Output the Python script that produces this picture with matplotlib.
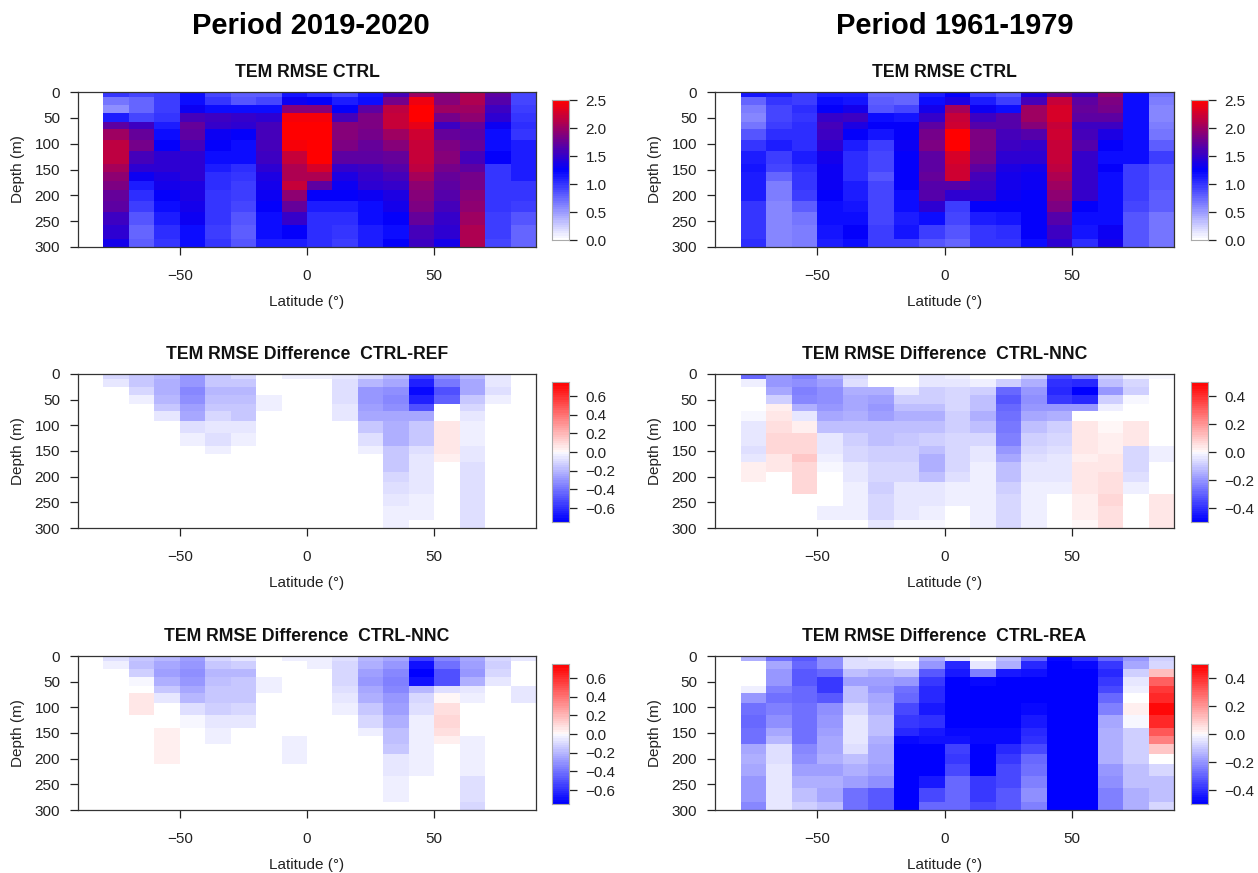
import numpy as np
import matplotlib
matplotlib.use("Agg")
import matplotlib.pyplot as plt
from matplotlib.colors import LinearSegmentedColormap, Normalize

plt.rcParams['font.family'] = ['Liberation Sans', 'DejaVu Sans']

W, H = 1258, 873

lat_edges = [-80,-70,-60,-50,-40,-30,-20,-10,0,10,20,30,40,50,60,70,80,90]
depth_edges = [0,10,25,40,58,72,92,115,140,155,172,190,210,233,258,285,300]

# Each inner list: one latitude band (from -80 to 90), values top to bottom in depth
rmse_2019 = [
 [1.0,0.7,0.55,1.1,1.7,2.0,2.15,2.15,2.05,1.95,1.85,1.75,1.7,1.55,1.45,1.35],
 [0.9,0.75,0.75,0.9,1.55,1.75,1.8,1.6,1.45,1.3,1.1,1.05,0.95,0.85,0.75,0.8],
 [0.95,0.95,0.95,1.0,1.1,1.2,1.25,1.45,1.45,1.4,1.35,1.25,1.2,1.1,1.05,1.0],
 [1.2,1.2,1.3,1.6,1.75,1.7,1.6,1.45,1.45,1.45,1.4,1.4,1.35,1.3,1.2,1.2],
 [0.9,1.0,1.2,1.55,1.5,1.3,1.25,1.2,1.1,1.05,1.05,1.0,1.0,1.0,0.95,1.0],
 [0.8,0.85,1.2,1.5,1.45,1.25,1.2,1.2,1.05,1.0,0.95,0.95,0.9,0.85,0.8,0.85],
 [0.8,0.9,1.2,1.45,1.6,1.6,1.6,1.55,1.45,1.4,1.35,1.3,1.25,1.2,1.2,1.1],
 [1.15,1.3,1.9,2.45,2.5,2.5,2.45,2.2,2.1,2.1,2.2,1.95,1.75,1.5,1.25,1.1],
 [1.05,1.25,1.9,2.45,2.5,2.5,2.5,2.5,2.3,2.1,1.7,1.25,1.1,1.05,1.05,1.05],
 [0.9,1.1,1.25,1.6,1.9,1.9,1.85,1.7,1.5,1.4,1.3,1.25,1.1,1.05,1.0,0.95],
 [1.15,1.2,1.7,1.85,1.85,1.8,1.75,1.7,1.55,1.5,1.45,1.3,1.2,1.2,1.1,1.1],
 [1.6,1.8,2.15,2.2,2.2,2.0,1.9,1.75,1.65,1.6,1.5,1.4,1.35,1.25,1.2,1.25],
 [2.0,2.4,2.5,2.5,2.35,2.25,2.2,2.2,2.15,2.05,1.95,1.9,1.85,1.75,1.6,1.55],
 [1.9,1.9,2.0,1.8,1.55,1.75,1.85,1.9,1.8,1.75,1.7,1.65,1.6,1.5,1.45,1.35],
 [2.1,2.1,2.0,1.95,1.75,1.7,1.75,1.6,1.7,1.8,1.8,1.9,1.95,2.0,2.1,2.1],
 [1.7,1.65,1.55,1.45,1.3,1.2,1.2,1.25,1.0,1.0,1.0,1.0,1.0,0.95,0.95,0.9],
 [0.9,0.9,0.95,1.0,1.05,1.0,1.1,1.1,1.1,1.1,1.0,1.0,0.95,0.85,0.75,0.75],
]

rmse_1961 = [
 [1.15,0.75,0.65,0.6,0.7,0.85,1.0,1.1,1.15,1.1,1.1,1.1,1.0,1.0,1.0,1.05],
 [1.1,1.0,0.9,0.9,0.95,1.05,1.1,0.95,0.9,0.75,0.65,0.65,0.6,0.6,0.6,0.6],
 [0.95,0.95,1.05,1.0,1.05,1.05,1.05,1.1,1.05,1.0,1.0,0.95,0.8,0.7,0.65,0.65],
 [1.1,1.2,1.25,1.5,1.6,1.55,1.45,1.35,1.3,1.3,1.3,1.25,1.2,1.2,1.15,1.1],
 [1.1,1.15,1.35,1.55,1.4,1.25,1.1,1.05,1.05,1.05,1.1,1.1,1.15,1.2,1.25,1.2],
 [0.75,0.8,0.85,1.2,1.25,1.15,0.95,0.9,0.9,0.85,0.9,0.9,0.9,0.9,0.95,0.95],
 [0.75,0.75,0.9,1.15,1.25,1.25,1.3,1.25,1.25,1.25,1.25,1.2,1.2,1.1,1.15,0.95],
 [1.1,1.2,1.35,1.5,1.7,1.8,1.85,1.7,1.7,1.75,1.65,1.65,1.45,1.2,0.95,0.85],
 [1.25,1.4,2.05,2.2,2.25,2.5,2.5,2.3,2.25,2.25,1.65,1.45,0.95,0.9,0.85,0.75],
 [0.95,1.1,1.3,1.55,1.65,1.85,1.85,1.8,1.7,1.6,1.55,1.5,1.25,1.1,1.0,1.0],
 [0.85,0.95,1.2,1.65,1.65,1.6,1.55,1.45,1.4,1.35,1.35,1.3,1.25,1.15,1.05,1.0],
 [1.4,1.6,2.0,2.0,1.9,1.65,1.5,1.45,1.35,1.3,1.3,1.25,1.25,1.25,1.25,1.2],
 [1.75,2.2,2.3,2.3,2.2,2.25,2.2,2.2,2.15,2.1,2.0,1.95,1.85,1.65,1.55,1.45],
 [1.55,1.7,1.75,1.7,1.55,1.6,1.65,1.5,1.5,1.5,1.5,1.5,1.25,1.2,1.15,1.05],
 [1.95,1.85,1.8,1.7,1.55,1.4,1.25,1.2,1.25,1.2,1.2,1.2,1.2,1.2,1.3,1.35],
 [1.2,1.2,1.2,1.2,1.2,1.2,1.2,1.2,0.95,0.95,0.95,0.95,0.9,0.85,0.85,0.85],
 [0.7,0.65,0.6,0.6,0.65,0.7,0.8,0.95,0.85,0.85,0.85,0.8,0.8,0.7,0.7,0.7],
]

diff_2019_ref = [
 [-0.12,-0.08,0,0,0,0,0,0,0,0,0,0,0,0,0,0],
 [-0.15,-0.15,-0.12,-0.05,0,0,0,0,0,0,0,0,0,0,0,0],
 [-0.2,-0.22,-0.22,-0.2,-0.15,-0.07,0,0,0,0,0,0,0,0,0,0],
 [-0.3,-0.3,-0.35,-0.33,-0.28,-0.25,-0.1,-0.05,0,0,0,0,0,0,0,0],
 [-0.15,-0.17,-0.2,-0.18,-0.15,-0.12,-0.08,-0.1,-0.05,0,0,0,0,0,0,0],
 [-0.12,-0.17,-0.2,-0.18,-0.16,-0.15,-0.08,-0.05,0,0,0,0,0,0,0,0],
 [0,0,0,-0.05,-0.05,0,0,0,0,0,0,0,0,0,0,0],
 [-0.04,0,0,0,0,0,0,0,0,0,0,0,0,0,0,0],
 [-0.04,0,0,0,0,0,0,0,0,0,0,0,0,0,0,0],
 [-0.07,-0.1,-0.1,-0.1,-0.08,-0.07,0,0,0,0,0,0,0,0,0,0],
 [-0.12,-0.2,-0.3,-0.3,-0.28,-0.25,-0.15,-0.1,-0.05,0,0,0,0,0,0,0],
 [-0.2,-0.25,-0.33,-0.35,-0.32,-0.25,-0.22,-0.22,-0.15,-0.15,-0.15,-0.12,-0.1,-0.08,-0.04,-0.04],
 [-0.55,-0.65,-0.72,-0.65,-0.5,-0.25,-0.15,-0.15,-0.1,-0.08,-0.08,-0.08,-0.08,-0.05,-0.05,0],
 [-0.32,-0.4,-0.5,-0.45,0,0,0.06,0.07,0.06,0.05,0,0,0,0,0,0],
 [-0.2,-0.25,-0.25,-0.15,-0.12,-0.07,-0.05,-0.05,-0.08,-0.08,-0.1,-0.1,-0.1,-0.1,-0.1,-0.1],
 [-0.08,-0.08,-0.1,-0.05,0,0,0,0,0,0,0,0,0,0,0,0],
 [0,0,0,0,0,0,0,0,0,0,0,0,0,0,0,0],
]

diff_1961_nnc = [
 [-0.3,-0.03,0,0,0,-0.02,-0.04,-0.04,-0.06,-0.04,0.03,0.03,0,0,0,0],
 [-0.2,-0.2,-0.17,-0.1,0.03,0.05,0.06,0.08,0.07,0.04,0.04,0,0,0,0,0],
 [-0.25,-0.22,-0.25,-0.23,-0.15,-0.05,0.03,0.08,0.08,0.1,0.08,0.07,0.07,0,0,0],
 [-0.15,-0.18,-0.22,-0.22,-0.2,-0.17,-0.12,-0.05,-0.04,-0.03,-0.02,0,0,0,-0.03,0],
 [-0.07,-0.06,-0.15,-0.17,-0.17,-0.15,-0.12,-0.1,-0.08,-0.08,-0.05,-0.05,-0.03,-0.03,-0.03,0],
 [0,0,-0.15,-0.18,-0.2,-0.18,-0.13,-0.12,-0.1,-0.1,-0.08,-0.07,-0.1,-0.07,-0.07,-0.04],
 [0,0,-0.05,-0.1,-0.13,-0.15,-0.13,-0.11,-0.1,-0.1,-0.08,-0.07,-0.05,-0.05,-0.05,-0.02],
 [-0.04,-0.04,-0.1,-0.1,-0.13,-0.15,-0.12,-0.1,-0.13,-0.15,-0.15,-0.12,-0.05,-0.05,-0.03,-0.02],
 [-0.03,-0.04,-0.07,-0.08,-0.08,-0.1,-0.1,-0.08,-0.08,-0.08,-0.08,-0.06,-0.03,-0.03,0,0],
 [0,-0.03,-0.1,-0.12,-0.12,-0.15,-0.12,-0.07,-0.05,-0.04,-0.03,-0.03,-0.03,-0.03,-0.03,-0.03],
 [0,-0.1,-0.3,-0.32,-0.3,-0.28,-0.26,-0.25,-0.2,-0.17,-0.13,-0.12,-0.1,-0.07,-0.07,-0.07],
 [-0.1,-0.15,-0.2,-0.22,-0.2,-0.17,-0.12,-0.1,-0.08,-0.06,-0.05,-0.04,-0.03,-0.03,-0.03,-0.03],
 [-0.35,-0.4,-0.42,-0.38,-0.2,-0.15,-0.1,-0.07,-0.06,-0.04,-0.04,-0.04,-0.03,0,0,0],
 [-0.25,-0.42,-0.5,-0.42,-0.2,0,0.04,0.05,0.04,0.03,0.04,0.05,0.04,0.03,0.03,0.02],
 [-0.1,-0.13,-0.2,-0.1,-0.03,0,0.02,0.03,0.03,0.04,0.05,0.06,0.06,0.07,0.06,0.06],
 [-0.03,-0.08,-0.1,-0.02,0,0,0.05,0.04,-0.07,-0.07,-0.07,-0.06,-0.03,0,0,0],
 [-0.02,0,0,0,0,0,0,0,-0.03,-0.03,0,0,0,0.04,0.04,0.04],
]

diff_2019_nnc = [
 [-0.1,-0.05,0,0,0,0,0,0,0,0,0,0,0,0,0,0],
 [-0.15,-0.18,-0.13,-0.03,0,0.06,0.06,0,0,0,0,0,0,0,0,0],
 [-0.2,-0.25,-0.27,-0.22,-0.15,-0.07,0,0,0.05,0.05,0.05,0.05,0,0,0,0],
 [-0.28,-0.3,-0.33,-0.3,-0.25,-0.2,-0.1,-0.03,0,0,0,0,0,0,0,0],
 [-0.12,-0.15,-0.2,-0.18,-0.17,-0.15,-0.13,-0.08,-0.05,-0.05,0,0,0,0,0,0],
 [-0.08,-0.13,-0.2,-0.17,-0.15,-0.15,-0.12,-0.07,0,0,0,0,0,0,0,0],
 [0,0,0,-0.05,-0.05,0,0,0,0,0,0,0,0,0,0,0],
 [-0.05,0,0,0,0,0,0,0,0,-0.05,-0.05,-0.05,0,0,0,0],
 [-0.05,-0.05,0,0,0,0,0,0,0,0,0,0,0,0,0,0],
 [-0.1,-0.12,-0.12,-0.12,-0.1,-0.08,-0.04,0,0,0,0,0,0,0,0,0],
 [-0.2,-0.22,-0.28,-0.3,-0.25,-0.22,-0.17,-0.12,-0.05,0,0,0,0,0,0,0],
 [-0.25,-0.3,-0.35,-0.38,-0.35,-0.3,-0.28,-0.22,-0.18,-0.18,-0.15,-0.08,-0.08,-0.05,-0.05,0],
 [-0.55,-0.7,-0.75,-0.7,-0.2,-0.12,-0.1,-0.05,-0.05,-0.05,-0.05,-0.05,-0.05,0,0,0],
 [-0.35,-0.42,-0.5,-0.5,-0.1,0.03,0.1,0.11,0.09,0.05,0,0,0,0,0,0],
 [-0.25,-0.27,-0.3,-0.22,-0.07,-0.05,0,0,0,-0.05,-0.05,-0.05,-0.05,-0.09,-0.09,-0.11],
 [-0.12,-0.13,-0.12,-0.08,0,0,0,0,0,0,0,0,0,0,0,0],
 [-0.06,0,0,0,-0.07,-0.06,0,0,0,0,0,0,0,0,0,0],
]

diff_1961_rea = [
 [-0.15,0,0,0,-0.03,-0.2,-0.27,-0.3,-0.28,-0.28,-0.17,-0.16,-0.17,-0.2,-0.2,-0.23],
 [-0.27,-0.17,-0.2,-0.2,-0.25,-0.28,-0.25,-0.22,-0.17,-0.14,-0.06,-0.06,-0.05,-0.04,-0.04,-0.05],
 [-0.32,-0.3,-0.33,-0.33,-0.3,-0.3,-0.27,-0.27,-0.28,-0.27,-0.23,-0.22,-0.18,-0.16,-0.12,-0.1],
 [-0.22,-0.22,-0.3,-0.38,-0.38,-0.33,-0.22,-0.2,-0.18,-0.17,-0.17,-0.16,-0.18,-0.15,-0.17,-0.12],
 [-0.06,-0.06,-0.13,-0.18,-0.12,-0.12,-0.08,-0.05,-0.04,-0.05,-0.06,-0.13,-0.16,-0.18,-0.28,-0.28],
 [-0.05,-0.06,-0.15,-0.18,-0.2,-0.17,-0.15,-0.13,-0.13,-0.15,-0.17,-0.17,-0.18,-0.22,-0.32,-0.32],
 [0,-0.04,-0.12,-0.2,-0.27,-0.3,-0.35,-0.38,-0.42,-0.48,-0.5,-0.5,-0.5,-0.5,-0.5,-0.5],
 [-0.15,-0.2,-0.32,-0.38,-0.42,-0.42,-0.45,-0.4,-0.45,-0.46,-0.5,-0.5,-0.5,-0.45,-0.36,-0.3],
 [-0.05,-0.42,-0.45,-0.5,-0.5,-0.5,-0.5,-0.5,-0.48,-0.46,-0.37,-0.38,-0.35,-0.3,-0.3,-0.3],
 [0,-0.05,-0.25,-0.48,-0.5,-0.5,-0.5,-0.5,-0.48,-0.47,-0.5,-0.5,-0.5,-0.38,-0.38,-0.35],
 [-0.12,-0.15,-0.45,-0.5,-0.5,-0.5,-0.5,-0.5,-0.48,-0.47,-0.42,-0.38,-0.35,-0.35,-0.33,-0.33],
 [-0.3,-0.42,-0.46,-0.5,-0.5,-0.5,-0.48,-0.45,-0.42,-0.4,-0.35,-0.3,-0.28,-0.25,-0.22,-0.25],
 [-0.47,-0.5,-0.5,-0.5,-0.5,-0.5,-0.5,-0.5,-0.5,-0.5,-0.5,-0.5,-0.5,-0.5,-0.5,-0.5],
 [-0.4,-0.47,-0.5,-0.5,-0.5,-0.5,-0.5,-0.5,-0.5,-0.5,-0.5,-0.5,-0.5,-0.5,-0.5,-0.5],
 [-0.3,-0.38,-0.42,-0.38,-0.35,-0.3,-0.25,-0.17,-0.15,-0.15,-0.15,-0.15,-0.2,-0.22,-0.25,-0.25],
 [-0.2,-0.17,-0.1,-0.05,-0.03,0,0.03,-0.02,-0.1,-0.1,-0.1,-0.1,-0.13,-0.13,-0.15,-0.15],
 [-0.1,-0.08,0.13,0.3,0.38,0.42,0.47,0.42,0.33,0.25,0.1,0,-0.08,-0.12,-0.12,-0.08],
]

x_ticks = [-50, 0, 50]
y_ticks = [0, 50, 100, 150, 200, 250, 300]
cb_ticks_rmse = [0.0, 0.5, 1.0, 1.5, 2.0, 2.5]
cb_ticks_075 = [-0.6, -0.4, -0.2, 0.0, 0.2, 0.4, 0.6]
cb_ticks_05 = [-0.4, -0.2, 0.0, 0.2, 0.4]

cmap_seq = LinearSegmentedColormap.from_list('wbr', ['white', 'blue', 'red'], N=64)
cmap_div = LinearSegmentedColormap.from_list('bwr2', ['blue', 'white', 'red'], N=65)

FS = 11
INK = '#222222'

fig = plt.figure(figsize=(W/100, H/100), dpi=100, facecolor='white')

def px_axes(x0, y0, x1, y1):
    return fig.add_axes([x0/W, 1-y1/H, (x1-x0)/W, (y1-y0)/H])

def panel(data, title, cmap, vmin, vmax, cb_ticks, ax_box, cb_box):
    ax = px_axes(*ax_box)
    arr = np.array(data, dtype=float).T
    assert arr.shape == (16, 17)
    norm = Normalize(vmin, vmax)
    ax.pcolormesh(lat_edges, depth_edges, arr, cmap=cmap, norm=norm, edgecolors='none', linewidth=0, rasterized=True)
    ax.set_xlim(-90, 90)
    ax.set_ylim(300, 0)
    ax.set_xticks(x_ticks)
    ax.set_xticklabels(['\u221250', '0', '50'])
    ax.set_yticks(y_ticks)
    ax.tick_params(length=5.8, width=0.9, labelsize=FS, colors=INK)
    ax.tick_params(axis='y', pad=7)
    ax.tick_params(axis='x', pad=10)
    for s in ax.spines.values():
        s.set_linewidth(0.9)
        s.set_color('#333333')
    ax.set_xlabel('Latitude (\u00b0)', fontsize=FS, color=INK, labelpad=9)
    ax.set_ylabel('Depth (m)', fontsize=FS, color=INK, labelpad=7)
    ax.set_title(title, fontsize=12.7, fontweight='bold', color='#111111', pad=10.5)
    cax = px_axes(*cb_box)
    grad = np.linspace(vmin, vmax, 64).reshape(-1, 1)
    cax.imshow(grad, origin='lower', aspect='auto', cmap=cmap, norm=norm,
               extent=[0, 1, vmin, vmax], interpolation='nearest')
    cax.set_xticks([])
    cax.yaxis.tick_right()
    cax.set_yticks(cb_ticks)
    cax.set_yticklabels([f'{t:.1f}'.replace('-', '\u2212') for t in cb_ticks])
    cax.tick_params(length=5.8, width=0.9, labelsize=FS, colors=INK, pad=6)
    for s in cax.spines.values():
        s.set_linewidth(0.8)
        s.set_color('#aaaaaa')
    return ax

L = (78, 536); R = (715, 1174)
CL = (552, 569); CR = (1191, 1208)
rows = [(92, 247), (374, 528), (656, 810)]
cbrows = [(100, 240), (382, 522), (664, 804)]

panel(rmse_2019, 'TEM RMSE CTRL', cmap_seq, 0, 2.5, cb_ticks_rmse,
      (L[0], rows[0][0], L[1], rows[0][1]), (CL[0], cbrows[0][0], CL[1], cbrows[0][1]))
panel(rmse_1961, 'TEM RMSE CTRL', cmap_seq, 0, 2.5, cb_ticks_rmse,
      (R[0], rows[0][0], R[1], rows[0][1]), (CR[0], cbrows[0][0], CR[1], cbrows[0][1]))
panel(diff_2019_ref, 'TEM RMSE Difference  CTRL-REF', cmap_div, -0.75, 0.75, cb_ticks_075,
      (L[0], rows[1][0], L[1], rows[1][1]), (CL[0], cbrows[1][0], CL[1], cbrows[1][1]))
panel(diff_1961_nnc, 'TEM RMSE Difference  CTRL-NNC', cmap_div, -0.5, 0.5, cb_ticks_05,
      (R[0], rows[1][0], R[1], rows[1][1]), (CR[0], cbrows[1][0], CR[1], cbrows[1][1]))
panel(diff_2019_nnc, 'TEM RMSE Difference  CTRL-NNC', cmap_div, -0.75, 0.75, cb_ticks_075,
      (L[0], rows[2][0], L[1], rows[2][1]), (CL[0], cbrows[2][0], CL[1], cbrows[2][1]))
panel(diff_1961_rea, 'TEM RMSE Difference  CTRL-REA', cmap_div, -0.5, 0.5, cb_ticks_05,
      (R[0], rows[2][0], R[1], rows[2][1]), (CR[0], cbrows[2][0], CR[1], cbrows[2][1]))

fig.text(310.5/W, 1-26/H, 'Period 2019-2020', ha='center', va='center', fontsize=21, fontweight='bold', color='black')
fig.text(955/W, 1-26/H, 'Period 1961-1979', ha='center', va='center', fontsize=21, fontweight='bold', color='black')

fig.savefig('out.png', dpi=100, facecolor='white')
